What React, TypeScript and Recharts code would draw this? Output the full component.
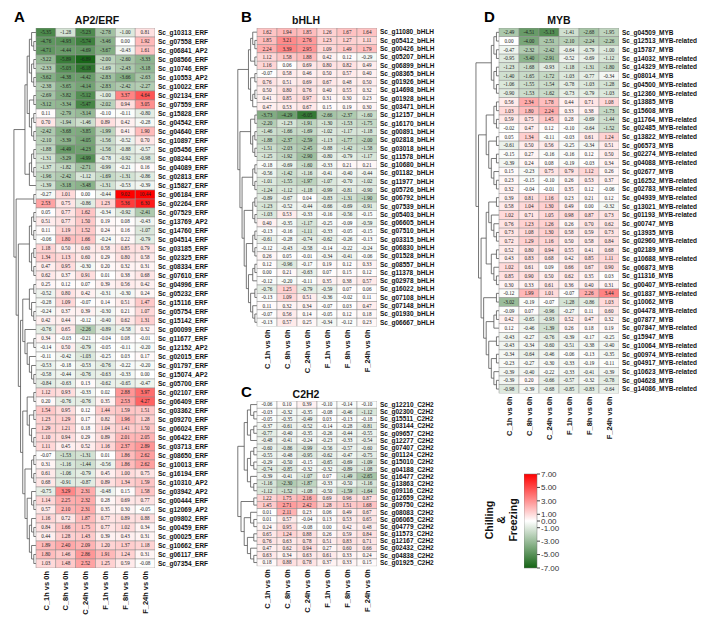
import React from "react";
import { ScatterChart, Scatter, BarChart, Bar, XAxis, YAxis, ReferenceLine } from "recharts";

type Tree = number | Tree[];

const COLUMNS = ["C_1h vs 0h", "C_8h vs 0h", "C_24h vs 0h", "F_1h vs 0h", "F_8h vs 0h", "F_24h vs 0h"];

const AP2_GENES = [
  "Sc_g10313_ERF", "Sc_g07558_ERF", "Sc_g06841_AP2", "Sc_g08566_ERF", "Sc_g10746_ERF", "Sc_g10553_AP2",
  "Sc_g10022_ERF", "Sc_g02134_ERF", "Sc_g07559_ERF", "Sc_g15828_ERF", "Sc_g04542_ERF", "Sc_g04640_ERF",
  "Sc_g10897_ERF", "Sc_g05456_ERF", "Sc_g08244_ERF", "Sc_g04089_ERF", "Sc_g02813_ERF", "Sc_g15827_ERF",
  "Sc_g06184_ERF", "Sc_g02264_ERF", "Sc_g07529_ERF", "Sc_g13769_AP2", "Sc_g14760_ERF", "Sc_g04514_ERF",
  "Sc_g03185_ERF", "Sc_g02325_ERF", "Sc_g08334_ERF", "Sc_g07610_ERF", "Sc_g04996_ERF", "Sc_g05232_ERF",
  "Sc_g15116_ERF", "Sc_g05754_ERF", "Sc_g15142_ERF", "Sc_g00099_ERF", "Sc_g11677_ERF", "Sc_g12152_AP2",
  "Sc_g02015_ERF", "Sc_g01797_ERF", "Sc_g15074_AP2", "Sc_g05700_ERF", "Sc_g02107_ERF", "Sc_g06409_ERF",
  "Sc_g03362_ERF", "Sc_g09270_ERF", "Sc_g06024_ERF", "Sc_g06422_ERF", "Sc_g03713_ERF", "Sc_g08650_ERF",
  "Sc_g10013_ERF", "Sc_g16194_ERF", "Sc_g10310_AP2", "Sc_g03942_AP2", "Sc_g00444_ERF", "Sc_g12069_AP2",
  "Sc_g09802_ERF", "Sc_g00459_ERF", "Sc_g00025_ERF", "Sc_g10662_ERF", "Sc_g06117_ERF", "Sc_g07354_ERF",
];

const AP2_VALUES = [
  [-5.35, -1.28, -5.23, -2.78, -1.0, 0.81], [-4.76, -4.93, -5.74, -3.46, 0.0, 1.92],
  [-4.71, -4.44, -4.69, -3.67, -0.43, 1.61], [-3.22, -5.89, -6.89, -2.0, -2.6, -3.33],
  [-2.33, -5.03, -6.18, -1.69, -2.43, -3.18], [-3.62, -4.38, -4.42, -2.83, -3.66, -2.63],
  [-2.38, -3.65, -4.14, -2.83, -2.42, -2.27], [-2.69, -3.82, -5.12, -1.0, 3.37, 4.64],
  [-3.12, -3.34, -5.47, -2.02, 0.94, 3.05], [0.11, -2.79, -3.14, -0.1, -0.11, -0.8],
  [0.7, -1.94, -1.46, 0.89, 0.42, -0.28], [-2.42, -3.68, -3.85, -1.99, 0.41, 1.9],
  [-2.1, -3.39, -4.05, -1.56, -0.52, 0.7], [-1.88, -4.49, -4.23, -1.56, -0.88, -0.57],
  [-1.31, -3.29, -4.99, -0.78, -0.92, -0.98], [-1.37, -1.82, -2.71, -0.99, -0.21, 0.16],
  [-1.96, -2.42, -1.12, -1.69, -1.31, -0.86], [-1.39, -3.18, -3.48, -1.31, -0.53, -0.39],
  [-0.27, 1.01, 0.0, -0.44, 9.02, 10.44], [2.53, 0.75, -0.86, 1.23, 5.36, 6.3],
  [0.05, 0.77, 1.62, -0.34, -0.92, -2.41], [0.51, 0.77, 1.5, 0.19, 0.08, -0.43],
  [0.11, 1.19, 1.52, 0.24, 0.16, -1.07], [-0.06, 1.8, 1.66, -0.24, 0.22, -0.79],
  [1.18, 0.5, 0.6, 0.58, 0.85, 0.79], [1.34, 1.13, 0.6, 0.29, 0.8, 0.58],
  [0.47, 0.95, -0.3, 0.2, 0.32, 0.31], [0.62, 0.37, 0.91, 0.01, 0.38, 0.68],
  [0.25, 0.12, 0.07, 0.39, 0.56, 0.42], [-0.52, 0.8, 0.42, -0.31, -0.3, 0.24],
  [-0.28, 1.09, -0.07, 0.14, 0.51, 1.47], [-0.24, 0.37, 0.39, -0.3, 0.21, 1.07],
  [0.42, 0.44, -0.12, -0.4, 0.62, 1.31], [-0.76, 0.65, -2.26, -0.89, -0.58, 0.32],
  [0.34, -0.03, -0.21, -0.04, 0.08, -0.01], [-0.14, 0.5, -0.79, -0.05, -0.11, -0.2],
  [-0.11, -0.42, -1.03, -0.25, 0.03, 0.17], [-0.53, -0.18, -0.53, -0.76, -0.22, -0.2],
  [-0.58, -0.44, -0.76, -0.63, -0.33, 0.0], [-0.84, -0.63, 0.13, -0.62, -0.65, -0.47],
  [1.12, 0.93, -0.33, 0.02, 2.88, 3.97], [0.2, -0.76, -0.76, 0.35, 2.53, 4.27],
  [1.54, 0.95, 0.12, 1.44, 1.59, 1.51], [1.23, 1.29, 0.17, 0.82, 1.96, 1.28],
  [1.29, 1.21, 0.18, 1.04, 1.41, 1.5], [1.1, 0.94, 0.29, 0.89, 2.01, 2.05],
  [1.11, 0.45, 0.52, 1.16, 2.37, 2.89], [-0.07, -1.53, -1.31, 0.01, 1.86, 2.62],
  [0.31, -1.16, -1.44, -0.56, 1.86, 2.62], [0.61, -1.06, -0.79, 0.45, 1.0, 0.75],
  [0.68, -0.91, -0.87, 0.89, 1.34, 1.59], [-0.75, 3.29, 2.31, -0.48, 0.15, 1.58],
  [1.14, 2.25, 2.32, 0.28, 0.69, 0.77], [0.57, 2.1, 2.31, 0.35, 0.3, -0.05],
  [1.16, 0.72, 1.87, 0.77, 0.89, 0.88], [0.84, 1.66, 1.75, 0.77, 1.02, 0.34],
  [0.44, 1.28, 1.43, 0.39, 0.43, 0.31], [1.89, 2.4, 2.09, 1.2, 1.37, 1.18],
  [1.8, 1.46, 2.86, 1.91, 1.24, 0.31], [1.03, 1.48, 2.52, 1.25, 0.59, -0.08],
];

const AP2_TREE: Tree = [
  [
    [[[0, [1, 2]], [[3, 4], [5, 6]]], [[7, 8], [[9, 10], [11, 12]]]],
    [[[13, 14], [15, 16]], 17],
  ],
  [
    [18, 19],
    [
      [[[20, 21], [22, 23]], [[24, 25], [26, 27]]],
      [
        [[[28, 29], [30, [31, 32]]], [33, [[34, 35], [36, [37, [38, 39]]]]]],
        [[[40, 41], [[42, 43], [44, [45, 46]]]], [[[47, 48], [49, 50]], [[51, [52, 53]], [[54, [55, 56]], [57, [58, 59]]]]]],
      ],
    ],
  ],
];

const BHLH_GENES = [
  "Sc_g11080_bHLH", "Sc_g05412_bHLH", "Sc_g00426_bHLH", "Sc_g05207_bHLH", "Sc_g06899_bHLH", "Sc_g08365_bHLH",
  "Sc_g01926_bHLH", "Sc_g14698_bHLH", "Sc_g01928_bHLH", "Sc_g03471_bHLH", "Sc_g12157_bHLH", "Sc_g16170_bHLH",
  "Sc_g00891_bHLH", "Sc_g02818_bHLH", "Sc_g03018_bHLH", "Sc_g11578_bHLH", "Sc_g10680_bHLH", "Sc_g01182_bHLH",
  "Sc_g11977_bHLH", "Sc_g05726_bHLH", "Sc_g06792_bHLH", "Sc_g07539_bHLH", "Sc_g05403_bHLH", "Sc_g06605_bHLH",
  "Sc_g07510_bHLH", "Sc_g03315_bHLH", "Sc_g06830_bHLH", "Sc_g01528_bHLH", "Sc_g08557_bHLH", "Sc_g11378_bHLH",
  "Sc_g02978_bHLH", "Sc_g16022_bHLH", "Sc_g07108_bHLH", "Sc_g07148_bHLH", "Sc_g01930_bHLH", "Sc_g06667_bHLH",
];

const BHLH_VALUES = [
  [1.62, 1.94, 1.85, 1.26, 1.67, 1.64], [1.85, 3.21, 2.76, 1.23, 1.27, 1.11],
  [2.24, 3.39, 2.95, 1.09, 1.49, 1.79], [1.12, 1.58, 1.88, 0.42, 0.12, -0.29],
  [1.16, 0.06, 0.69, 0.8, 0.82, 0.49], [-0.07, 0.58, 0.46, 0.5, 0.57, 0.4],
  [0.76, 0.51, 0.69, 0.67, 0.48, 0.5], [0.5, 0.8, 0.76, 0.4, 0.55, 0.32],
  [0.41, 0.85, 0.97, 0.31, 0.3, 0.23], [0.47, 0.53, 0.67, 0.15, 0.19, 0.3],
  [-3.73, -4.29, -6.05, -2.66, -2.37, -1.6], [-2.2, -1.23, -1.91, -1.3, -1.53, -1.75],
  [-1.46, -1.66, -1.69, -1.02, -1.17, -1.18], [-1.88, -2.37, -2.59, -1.13, -1.77, -2.0],
  [-1.51, -2.03, -2.45, -0.88, -1.42, -1.58], [-1.25, -1.92, -2.9, -0.8, -0.79, -1.17],
  [-0.18, -0.69, -1.6, -0.33, 0.21, 0.21], [-0.56, -1.42, -1.16, -0.41, -0.4, -0.44],
  [-1.01, -1.55, -1.97, -1.07, -0.7, -1.02], [-1.24, -1.12, -1.18, -0.99, -0.81, -0.9],
  [-0.89, -0.67, 0.04, -0.83, -1.31, -1.9], [-1.23, -0.52, -0.44, -0.66, -0.69, -0.91],
  [-1.03, 0.53, -0.33, -0.16, -0.56, -0.15], [0.4, -0.35, -1.17, -0.25, -0.09, -0.59],
  [-0.13, -0.16, -1.11, -0.33, -0.05, -0.15], [-0.61, -0.28, -0.74, -0.62, -0.26, -0.13],
  [-0.12, -0.43, -0.58, -0.14, -0.22, -0.24], [0.26, 0.05, -0.01, -0.34, -0.41, -0.06],
  [0.12, -0.96, -0.17, 0.19, 0.12, 0.33], [0.0, 0.21, -0.63, 0.07, 0.15, 0.12],
  [-0.12, -0.2, -0.11, 0.35, 0.38, 0.57], [-0.76, 1.25, -0.79, -0.59, 0.07, 0.06],
  [-0.13, 1.09, 0.51, -0.36, -0.02, 0.11], [0.11, 0.32, 0.34, -0.07, 0.03, 0.47],
  [-0.07, 0.56, 0.14, -0.05, 0.12, 0.18], [-0.13, 0.57, 0.25, -0.34, -0.12, 0.23],
];

const BHLH_TREE: Tree = [
  [[[0, [1, 2]], [3, 4]], [[5, 6], [[7, 8], 9]]],
  [
    [[10, 11], [[12, 13], [14, 15]]],
    [[[16, 17], [18, 19]], [[[20, 21], [22, 23]], [[[24, 25], [26, 27]], [[[28, 29], 30], [[31, 32], [33, [34, 35]]]]]]],
  ],
];

const C2H2_GENES = [
  "Sc_g12210_C2H2", "Sc_g02300_C2H2", "Sc_g15511_C2H2", "Sc_g03144_C2H2", "Sc_g09657_C2H2", "Sc_g12277_C2H2",
  "Sc_g07407_C2H2", "Sc_g01124_C2H2", "Sc_g15010_C2H2", "Sc_g04188_C2H2", "Sc_g16477_C2H2", "Sc_g13863_C2H2",
  "Sc_g09116_C2H2", "Sc_g12659_C2H2", "Sc_g09750_C2H2", "Sc_g08083_C2H2", "Sc_g06065_C2H2", "Sc_g04779_C2H2",
  "Sc_g11573_C2H2", "Sc_g12167_C2H2", "Sc_g02432_C2H2", "Sc_g04838_C2H2", "Sc_g01925_C2H2",
];

const C2H2_VALUES = [
  [-0.06, 0.1, 0.39, -0.1, -0.14, -0.1], [-0.03, -0.32, -0.35, -0.08, -0.46, -1.12],
  [-0.05, -0.35, -0.49, 0.03, -0.13, -0.18], [-0.37, -0.61, -0.52, -0.14, -0.28, -0.81],
  [-0.77, -0.4, -0.35, -0.26, -0.44, -0.55], [-0.48, -0.41, -0.24, -0.23, -0.33, -0.54],
  [-0.6, -0.86, -0.99, -0.56, -0.57, -0.6], [-0.55, -0.48, -0.95, -0.62, -0.47, -0.75],
  [-0.29, -0.5, -0.15, -0.65, -0.69, -1.09], [-0.74, -0.85, -0.32, -0.32, -0.89, -1.08],
  [-0.39, -0.41, -1.07, 0.07, -1.49, -2.65], [-1.16, -2.3, -1.87, -0.33, -0.5, -1.16],
  [-1.12, -1.52, -1.08, -0.5, -1.59, -1.64], [1.22, 1.75, 2.16, 0.69, 0.96, 0.87],
  [1.45, 2.71, 2.42, 1.28, 1.51, 1.68], [0.01, 2.11, 0.23, 0.06, 0.49, 0.67],
  [0.01, 0.57, -0.04, 0.13, 0.53, 0.65], [0.24, 0.95, -0.08, 0.0, 0.42, 0.48],
  [0.65, 1.24, 0.88, 0.26, 0.59, 0.84], [0.76, 0.63, 0.78, 0.51, 0.83, 0.71],
  [0.47, 0.62, 0.94, 0.27, 0.6, 0.66], [0.63, 0.34, 0.63, 0.61, 0.33, 0.24],
  [0.18, 0.88, 0.78, 0.37, 0.33, 0.15],
];

const C2H2_TREE: Tree = [
  [[[0, [1, 2]], [[3, 4], 5]], [[[6, 7], [8, 9]], [10, [11, 12]]]],
  [[13, 14], [[15, [16, 17]], [[18, 19], [20, [21, 22]]]]],
];

const MYB_GENES = [
  "Sc_g04509_MYB", "Sc_g12513_MYB-related", "Sc_g15787_MYB", "Sc_g14032_MYB-related", "Sc_g14329_MYB-related",
  "Sc_g08014_MYB", "Sc_g04500_MYB-related", "Sc_g12360_MYB-related", "Sc_g13885_MYB", "Sc_g15608_MYB",
  "Sc_g11764_MYB-related", "Sc_g02485_MYB-related", "Sc_g13822_MYB-related", "Sc_g06573_MYB",
  "Sc_g02274_MYB-related", "Sc_g04088_MYB-related", "Sc_g02677_MYB", "Sc_g16252_MYB-related",
  "Sc_g02783_MYB-related", "Sc_g04939_MYB-related", "Sc_g13021_MYB-related", "Sc_g01193_MYB-related",
  "Sc_g00747_MYB", "Sc_g13935_MYB", "Sc_g02960_MYB-related", "Sc_g02189_MYB", "Sc_g10688_MYB-related",
  "Sc_g06873_MYB", "Sc_g11316_MYB", "Sc_g00407_MYB-related", "Sc_g01837_MYB-related", "Sc_g10062_MYB",
  "Sc_g04478_MYB-related", "Sc_g07877_MYB", "Sc_g07847_MYB-related", "Sc_g15947_MYB", "Sc_g10064_MYB-related",
  "Sc_g00974_MYB-related", "Sc_g04917_MYB-related", "Sc_g10623_MYB-related", "Sc_g04628_MYB", "Sc_g14086_MYB-related",
];

const MYB_VALUES = [
  [-2.49, -4.51, -5.13, -1.41, -2.68, -1.95], [0.0, -4.0, -2.51, -2.1, -2.24, -2.26],
  [-0.47, -2.32, -2.42, -0.64, -0.79, -1.0], [-0.95, -3.4, -2.91, -0.52, -0.69, -1.12],
  [-1.23, -1.68, -0.93, -1.18, -1.31, -1.8], [-1.4, -1.65, -1.72, -1.03, -0.77, -0.34],
  [-1.06, -1.55, -1.54, -0.78, -1.03, -1.28], [-0.9, -1.53, -1.62, -0.73, -0.79, -1.03],
  [0.56, 2.34, 1.78, 0.44, 0.71, 1.08], [1.03, 1.8, 2.24, 0.33, 0.38, -1.73],
  [0.59, 0.75, 1.45, 0.28, -0.69, -1.44], [-0.02, 0.47, 0.12, -0.1, -0.64, -1.52],
  [0.05, 1.34, -0.11, -0.03, 0.61, 1.24], [-0.61, 0.5, 0.56, -0.25, -0.34, 0.51],
  [-0.15, 0.27, -0.16, -0.16, 0.12, 0.5], [-0.39, 0.24, 0.08, -0.19, -0.03, 0.34],
  [0.15, -0.23, 0.75, 0.79, 1.12, 0.26], [0.23, -0.15, -0.1, 0.26, 0.53, 0.37],
  [0.32, -0.04, -0.01, 0.35, 0.12, -0.06], [0.39, 0.81, 1.16, 0.23, 0.21, 0.12],
  [0.58, 1.04, 1.3, 0.49, 0.0, -0.32], [1.02, 0.71, 1.05, 0.98, 0.87, 0.73],
  [0.76, 1.23, 1.26, 0.26, 0.7, 0.62], [0.73, 1.08, 1.3, 0.58, 0.59, 0.73],
  [0.72, 1.29, 1.16, 0.5, 0.58, 0.84], [0.52, 0.8, 0.94, 0.55, 0.41, 0.68],
  [0.43, 0.83, 0.68, 0.42, 0.85, 1.11], [1.02, 0.61, 0.09, 0.66, 0.67, 0.9],
  [0.85, 0.9, 0.5, 0.62, 0.35, 0.03], [0.3, 0.33, 0.61, 0.36, 0.4, 0.31],
  [-0.12, 1.99, 1.01, -0.07, 2.26, 3.44], [-3.02, -0.19, -0.07, -1.28, -0.86, 1.03],
  [-0.09, 0.07, -0.96, -0.27, 0.11, 0.6], [0.42, -0.65, -0.93, 0.52, 0.47, 0.32],
  [0.12, -0.46, -1.39, 0.26, 0.18, 0.19], [-0.43, -0.27, -0.76, -0.39, -0.17, -0.25],
  [-0.43, -0.34, -0.6, -0.51, -0.38, -0.4], [-0.34, -0.64, -0.46, -0.06, -0.13, -0.35],
  [-0.23, -0.27, -0.3, -0.33, -0.19, -0.11], [-0.39, -0.4, -0.22, -0.33, -0.41, -0.39],
  [-0.39, 0.2, -0.66, -0.57, -0.32, -0.78], [-0.98, -0.39, -0.68, -0.85, -0.83, -0.64],
];

const MYB_TREE: Tree = [
  [[[0, 1], [2, 3]], [[4, 5], [6, 7]]],
  [
    [[[8, 9], [10, 11]], [[12, 13], [[14, 15], [16, [17, 18]]]]],
    [
      [[[19, 20], [21, [22, [23, 24]]]], [[25, 26], [27, [28, 29]]]],
      [[30, 31], [[[32, 33], 34], [[35, 36], [[37, 38], [39, [40, 41]]]]]],
    ],
  ],
];

const LEGEND_TICKS = [7, 5, 3, 1, 0, -1, -3, -5, -7];
const LEGEND_RANGE = [{ name: "scale", range: [-7, 7] }];

const SANS = "'Liberation Sans', Arial, sans-serif";

function cellColor(v: number): string {
  const t = Math.min(Math.abs(v) / 7, 1);
  const end = v >= 0 ? [255, 0, 0] : [20, 100, 20];
  const c = end.map((e) => Math.round(255 + (e - 255) * t));
  return `rgb(${c[0]},${c[1]},${c[2]})`;
}

function treeHeight(t: Tree): number {
  return typeof t === "number" ? 0 : 1 + Math.max(...t.map(treeHeight));
}

// line segments of the dendrogram, in the chart's own data units
function dendroSegments(tree: Tree, xLeft: number) {
  const maxH = treeHeight(tree);
  const xOf = (h: number) => (h / maxH) * xLeft;
  const segs: number[][] = [];
  const walk = (t: Tree): { y: number; h: number } => {
    if (typeof t === "number") return { y: t + 0.5, h: 0 };
    const kids = t.map(walk);
    const h = 1 + Math.max(...kids.map((k) => k.h));
    const x = xOf(h);
    kids.forEach((k) => segs.push([xOf(k.h), k.y, x, k.y]));
    const ys = kids.map((k) => k.y);
    const y0 = Math.min(...ys);
    const y1 = Math.max(...ys);
    segs.push([x, y0, x, y1]);
    return { y: (y0 + y1) / 2, h };
  };
  walk(tree);
  return segs;
}

function ColTick({ x, y, payload }: any) {
  return (
    <text
      transform={`translate(${x},${y}) rotate(-90)`}
      textAnchor="end"
      dy="0.35em"
      fontSize={7.5}
      fontWeight={700}
      fontFamily={SANS}
      fill="#111"
    >
      {COLUMNS[Math.floor(payload.value)]}
    </text>
  );
}

type PanelProps = {
  genes: string[];
  values: number[][];
  tree: Tree;
  left: number;
  top: number;
  dendroW: number;
  cellW: number;
  rowH: number;
  labelW: number;
  axisH: number;
};

function HeatPanel({ genes, values, tree, left, top, dendroW, cellW, rowH, labelW, axisH }: PanelProps) {
  const n = genes.length;
  const xMin = -dendroW / cellW;
  const cells = values.flatMap((row, r) => row.map((v, c) => ({ x: c + 0.5, y: r + 0.5, v })));
  const segs = dendroSegments(tree, xMin * 0.96);
  const xTicks = COLUMNS.map((_, i) => i + 0.5);
  const yTicks = genes.map((_, i) => i + 0.5);

  const renderCell = (p: any) => {
    const { cx, cy, payload } = p;
    return (
      <g>
        <rect
          x={cx - cellW / 2}
          y={cy - rowH / 2}
          width={cellW}
          height={rowH}
          fill={cellColor(payload.v)}
          stroke="#8e8e8e"
          strokeWidth={0.5}
        />
        <text
          x={cx}
          y={cy}
          dy="0.36em"
          textAnchor="middle"
          fontSize={5.2}
          fontFamily="'Liberation Serif', serif"
          fill="#222"
        >
          {payload.v.toFixed(2)}
        </text>
      </g>
    );
  };

  return (
    <div style={{ position: "absolute", left, top }}>
      <ScatterChart
        width={dendroW + 6 * cellW + labelW}
        height={n * rowH + axisH}
        margin={{ top: 0, right: 0, bottom: 0, left: 0 }}
      >
        <XAxis
          type="number"
          dataKey="x"
          domain={[xMin, 6]}
          allowDataOverflow
          ticks={xTicks}
          interval={0}
          tick={<ColTick />}
          tickSize={0}
          tickMargin={3}
          tickLine={false}
          axisLine={false}
          height={axisH}
        />
        <YAxis
          type="number"
          dataKey="y"
          domain={[0, n]}
          reversed
          allowDataOverflow
          orientation="right"
          ticks={yTicks}
          interval={0}
          width={labelW}
          tickSize={0}
          tickMargin={3}
          tickLine={false}
          axisLine={false}
          tickFormatter={(v: number) => genes[Math.floor(v)]}
          tick={{ fontSize: 6.5, fontWeight: 700, fill: "#111", fontFamily: SANS }}
        />
        {segs.map((s, i) => (
          <ReferenceLine
            key={i}
            segment={[{ x: s[0], y: s[1] }, { x: s[2], y: s[3] }]}
            stroke="#555"
            strokeWidth={0.8}
            ifOverflow="visible"
          />
        ))}
        <Scatter data={cells} isAnimationActive={false} shape={renderCell} />
      </ScatterChart>
    </div>
  );
}

function ColorLegend() {
  return (
    <div style={{ position: "absolute", left: 524, top: 469 }}>
      <BarChart
        width={53}
        height={104}
        data={LEGEND_RANGE}
        margin={{ top: 5, right: 0, bottom: 5, left: 0 }}
        barCategoryGap={0}
      >
        <defs>
          <linearGradient id="legendGrad" x1="0" y1="0" x2="0" y2="1">
            <stop offset="0%" stopColor="#ff0000" />
            <stop offset="50%" stopColor="#ffffff" />
            <stop offset="100%" stopColor="#146414" />
          </linearGradient>
        </defs>
        <XAxis dataKey="name" hide />
        <YAxis
          type="number"
          domain={[-7, 7]}
          orientation="right"
          ticks={LEGEND_TICKS}
          interval={0}
          width={40}
          tickSize={3}
          tickMargin={1}
          axisLine={false}
          tickLine={{ stroke: "#444" }}
          tickFormatter={(v: number) => v.toFixed(2)}
          tick={{ fontSize: 8, fill: "#333", fontFamily: SANS }}
        />
        <Bar
          dataKey="range"
          fill="url(#legendGrad)"
          stroke="#777"
          strokeWidth={0.5}
          isAnimationActive={false}
        />
      </BarChart>
    </div>
  );
}

export default function App() {
  const letter = { fontSize: 15, fontWeight: 700, fontFamily: SANS, fill: "#000" };
  const title = { fontSize: 10.5, fontWeight: 700, fontFamily: SANS, fill: "#111", textAnchor: "middle" as const };
  return (
    <div style={{ position: "absolute", left: 0, top: 0, width: 702, height: 635, background: "#fff", overflow: "hidden" }}>
      <HeatPanel genes={AP2_GENES} values={AP2_VALUES} tree={AP2_TREE} left={13} top={27.5}
        dendroW={23} cellW={19.83} rowH={9} labelW={64} axisH={60} />
      <HeatPanel genes={BHLH_GENES} values={BHLH_VALUES} tree={BHLH_TREE} left={237} top={28}
        dendroW={20} cellW={20} rowH={8.29} labelW={62} axisH={55} />
      <HeatPanel genes={C2H2_GENES} values={C2H2_VALUES} tree={C2H2_TREE} left={237} top={401}
        dendroW={20} cellW={20} rowH={7.18} labelW={62} axisH={62} />
      <HeatPanel genes={MYB_GENES} values={MYB_VALUES} tree={MYB_TREE} left={475} top={28}
        dendroW={24} cellW={20} rowH={8.7} labelW={83} axisH={50} />
      <ColorLegend />
      <svg width={702} height={635} style={{ position: "absolute", left: 0, top: 0, pointerEvents: "none" }}>
        <text x={14} y={22} {...letter}>A</text>
        <text x={97} y={24} {...title}>AP2/ERF</text>
        <text x={241} y={22} {...letter}>B</text>
        <text x={306} y={24} {...title}>bHLH</text>
        <text x={241} y={397} {...letter}>C</text>
        <text x={306} y={398} {...title}>C2H2</text>
        <text x={484} y={22} {...letter}>D</text>
        <text x={559} y={24} {...title}>MYB</text>
        <g fontFamily={SANS} fontWeight={700} fontSize={10.5} fill="#111" textAnchor="middle">
          <text transform="translate(493,520) rotate(-90)">Chilling</text>
          <text transform="translate(505,520) rotate(-90)">&amp;</text>
          <text transform="translate(517,520) rotate(-90)">Freezing</text>
        </g>
      </svg>
    </div>
  );
}
